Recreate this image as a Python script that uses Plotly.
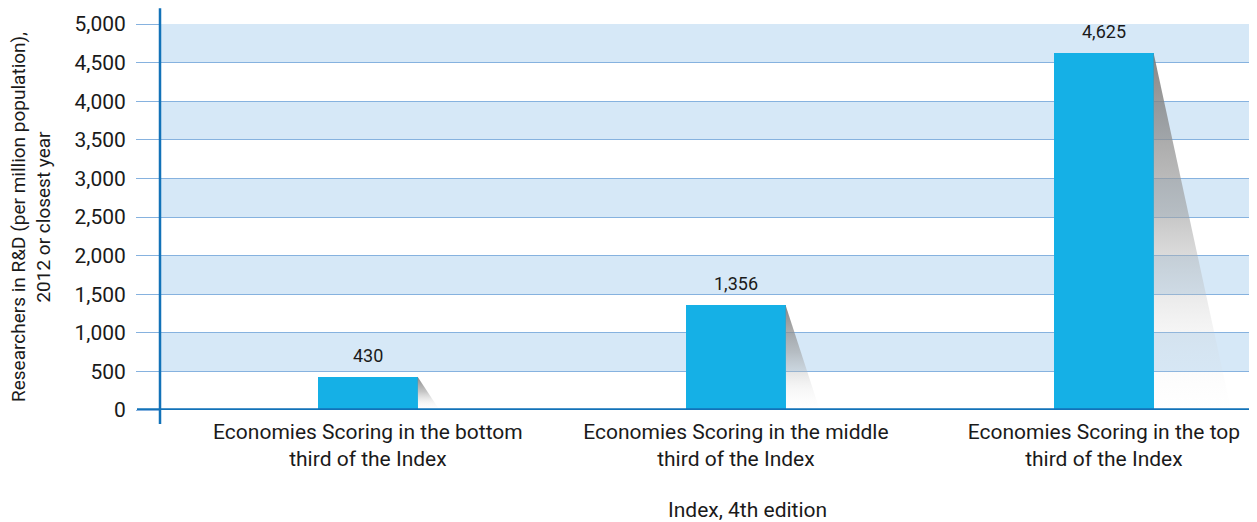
import plotly.graph_objects as go

# ---- data ----
categories = [
    "Economies Scoring in the bottom<br>third of the Index",
    "Economies Scoring in the middle<br>third of the Index",
    "Economies Scoring in the top<br>third of the Index",
]
values = [430, 1356, 4625]
value_labels = ["430", "1,356", "4,625"]
y_ticks = [0, 500, 1000, 1500, 2000, 2500, 3000, 3500, 4000, 4500, 5000]
y_tick_labels = ["0", "500", "1,000", "1,500", "2,000", "2,500", "3,000",
                 "3,500", "4,000", "4,500", "5,000"]
y_title = "Researchers in R&D (per million population),<br>2012 or closest year"
x_title = "Index, 4th edition"

# ---- style ----
FONT = "Roboto, sans-serif"
TXT = "#1a1a1a"
BAR = "#15b0e6"
BAND = "#d6e8f7"
GRID = "#86b2df"
AXIS = "#1272b8"
BAR_W = 0.27

xpos = list(range(len(categories)))

fig = go.Figure()

# shadows beside bars (gradient fading downward)
for i, v in zip(xpos, values):
    x0 = i + BAR_W / 2
    ext = 0.044 + 3.6e-5 * v
    fig.add_trace(go.Scatter(
        x=[x0, x0 + ext, x0, x0], y=[v, 0, 0, v],
        mode="lines", line=dict(width=0), fill="toself",
        fillgradient=dict(
            type="vertical", start=0, stop=v,
            colorscale=[[0, "rgba(230,230,230,0)"], [0.22, "rgba(200,200,200,0.18)"],
                        [0.55, "rgba(160,160,160,0.6)"], [1, "rgba(120,120,120,0.9)"]],
        ),
        hoverinfo="skip", showlegend=False,
    ))

fig.add_trace(go.Bar(
    x=xpos, y=values, width=BAR_W, marker=dict(color=BAR, line=dict(width=0)),
    showlegend=False, hoverinfo="skip",
))

# value labels
for i, v, t in zip(xpos, values, value_labels):
    fig.add_annotation(x=i, y=v, text=t, showarrow=False, yanchor="bottom",
                       yshift=9, font=dict(family=FONT, size=18, color=TXT))

# alternating bands
for lo in range(500, 5000, 1000):
    fig.add_shape(type="rect", xref="paper", yref="y", x0=0, x1=1, y0=lo, y1=lo + 500,
                  fillcolor=BAND, line=dict(width=0), layer="below")

# axis lines
fig.add_shape(type="line", xref="paper", yref="paper", x0=0, x1=0, y0=-0.036, y1=1.041,
              line=dict(color=AXIS, width=2.5))
fig.add_shape(type="line", xref="paper", yref="y", x0=-0.021, x1=1, y0=0, y1=0,
              line=dict(color=AXIS, width=3.5))

# axis titles
fig.add_annotation(xref="paper", yref="paper", x=-0.1176, y=0.5, text=y_title,
                   textangle=-90, showarrow=False, xanchor="center", yanchor="middle",
                   borderpad=0, font=dict(family=FONT, size=19, color=TXT))
fig.add_annotation(xref="paper", yref="paper", x=0.536, y=-0.259, text=x_title,
                   showarrow=False, xanchor="center", yanchor="middle",
                   font=dict(family=FONT, size=21, color=TXT))

# page body has an 8px margin: the figure is sized/offset to compensate
fig.update_layout(
    width=1249, height=514,
    margin=dict(l=152, r=0, t=16, b=112),
    paper_bgcolor="white", plot_bgcolor="white",
    font=dict(family=FONT, color=TXT),
    bargap=0,
)
fig.update_xaxes(
    range=[-0.565, 2.416], tickvals=xpos, ticktext=categories,
    showgrid=False, zeroline=False, showline=False, ticks="", automargin=False,
    ticklabelstandoff=7,
    tickfont=dict(family=FONT, size=21, color=TXT),
)
fig.update_yaxes(
    range=[0, 5000], tickvals=y_ticks, ticktext=y_tick_labels,
    showgrid=True, gridcolor=GRID, gridwidth=1, zeroline=False, showline=False,
    ticks="outside", ticklen=23, tickcolor=GRID, tickwidth=1, automargin=False,
    ticklabelstandoff=6,
    tickfont=dict(family=FONT, size=21, color=TXT),
)

fig.write_html("out.html")
